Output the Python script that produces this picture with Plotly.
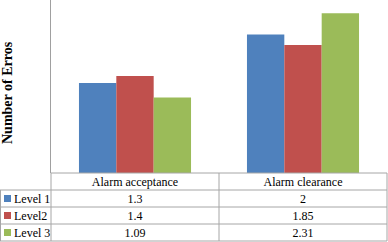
import plotly.graph_objects as go

categories = ["Alarm acceptance", "Alarm clearance"]
series_names = ["Level 1", "Level2", "Level 3"]
level1 = [1.3, 2]
level2 = [1.4, 1.85]
level3 = [1.09, 2.31]
value_labels = [["1.3", "2"], ["1.4", "1.85"], ["1.09", "2.31"]]
colors = ["#4F81BD", "#C0504D", "#9BBB59"]

W, H = 388, 242
plot_left = 51
plot_right = 387
plot_bottom = 173
row_h = 17
text_shift = 4  # table text sits a little higher than the grid
line_col = "#a6a6a6"
font_family = "Liberation Serif"

fig = go.Figure()
for name, vals, col in zip(series_names, [level1, level2, level3], colors):
    fig.add_trace(go.Bar(x=categories, y=vals, name=name, marker_color=col,
                         marker_line_width=0, xaxis="x", yaxis="y"))

first_col = ["\u00a0\u00a0" + n.replace(" ", "\u00a0") for n in series_names]
col_a = [v[0] for v in value_labels]
col_b = [v[1] for v in value_labels]
cat_w = (plot_right - plot_left) / 2

table_top = plot_bottom - text_shift
fig.add_trace(go.Table(
    domain=dict(x=[0, plot_right / W], y=[0, 1 - table_top / H]),
    columnwidth=[plot_left, cat_w, cat_w],
    header=dict(values=[""] + categories,
                line=dict(color="rgba(0,0,0,0)", width=0),
                fill_color="rgba(0,0,0,0)", align=["left", "center", "center"],
                font=dict(family=font_family, size=12, color="black"), height=row_h),
    cells=dict(values=[first_col, col_a, col_b],
               line=dict(color="rgba(0,0,0,0)", width=0),
               fill_color="rgba(0,0,0,0)", align=["left", "center", "center"],
               font=dict(family=font_family, size=12, color="black"), height=row_h),
))

# table grid
def py(v):
    return 1 - v / H

shapes = []
n_rows = len(series_names) + 1
table_bottom = plot_bottom + n_rows * row_h
# horizontal lines
shapes.append(dict(type="line", xref="paper", yref="paper", x0=plot_left / W, x1=plot_right / W,
                   y0=py(plot_bottom), y1=py(plot_bottom), line=dict(color=line_col, width=1)))
for r in range(1, n_rows + 1):
    yy = plot_bottom + r * row_h
    shapes.append(dict(type="line", xref="paper", yref="paper", x0=0, x1=plot_right / W,
                       y0=py(yy), y1=py(yy), line=dict(color=line_col, width=1)))
# vertical lines
shapes.append(dict(type="line", xref="paper", yref="paper", x0=0.5 / W, x1=0.5 / W,
                   y0=py(plot_bottom + row_h), y1=py(table_bottom), line=dict(color=line_col, width=1)))
for xv in [plot_left, plot_left + cat_w, plot_right]:
    shapes.append(dict(type="line", xref="paper", yref="paper", x0=xv / W, x1=xv / W,
                       y0=py(plot_bottom), y1=py(table_bottom), line=dict(color=line_col, width=1)))
# legend keys
for i, c in enumerate(colors):
    yc = plot_bottom + row_h * (i + 1.5)
    shapes.append(dict(type="rect", xref="paper", yref="paper",
                       x0=4 / W, x1=11 / W, y0=py(yc - 3.5), y1=py(yc + 3.5),
                       fillcolor=c, line=dict(width=0)))

fig.update_layout(
    width=W, height=H,
    margin=dict(l=0, r=0, t=0, b=0),
    paper_bgcolor="white", plot_bgcolor="white",
    barmode="group", bargap=0.333, bargroupgap=0,
    showlegend=False,
    xaxis=dict(domain=[plot_left / W, plot_right / W], showticklabels=False,
               ticks="", showgrid=False, zeroline=False, showline=False),
    yaxis=dict(domain=[1 - plot_bottom / H, 1], range=[0, 2.5], showticklabels=False,
               ticks="", showgrid=False, zeroline=False,
               showline=True, linecolor="#a0a0a0", linewidth=1),
    shapes=shapes,
    annotations=[dict(text="<b>Number of Erros</b>", textangle=-90,
                      x=8 / W, y=1 - 93 / H, xref="paper", yref="paper",
                      showarrow=False, xanchor="center", yanchor="middle",
                      font=dict(family=font_family, size=14, color="black"))],
)

fig.write_html("out.html", config={"displayModeBar": False},
               post_script="document.body.style.margin='0';")
